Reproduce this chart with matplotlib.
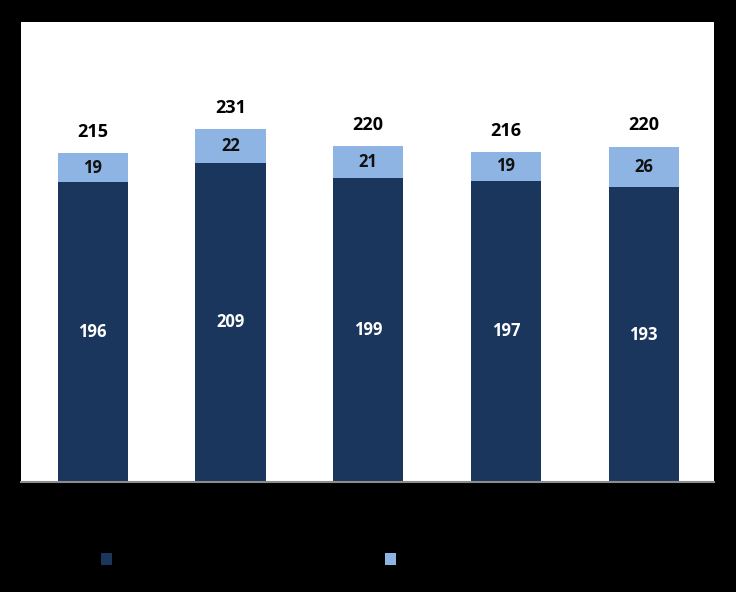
import numpy as np
import matplotlib
matplotlib.use("Agg")
from matplotlib import pyplot as plt

# data
categories = ["2010", "2011", "2012", "2013", "2014"]
base = [196, 209, 199, 197, 193]
top = [19, 22, 21, 19, 26]
totals = [215, 231, 220, 216, 220]
series_names = ["Series 1", "Series 2"]

dark = "#1b365d"
light = "#8db4e2"

plt.rcParams['font.family'] = ['Open Sans', 'DejaVu Sans']

fig = plt.figure(figsize=(7.36, 5.92), dpi=100, facecolor="black")
ax = fig.add_axes([21/736, 110/592, 693/736, 460/592])
ax.set_facecolor("white")

x = np.arange(len(categories))
b1 = ax.bar(x, base, width=0.51, color=dark, label=series_names[0])
b2 = ax.bar(x, top, width=0.51, bottom=base, color=light, label=series_names[1])

for i in range(len(x)):
    ax.text(x[i], base[i] / 2, str(base[i]), ha="center", va="center",
            color="white", fontsize=12, fontweight="bold")
    ax.text(x[i], base[i] + top[i] / 2, str(top[i]), ha="center", va="center",
            color="#111111", fontsize=12, fontweight="bold")
    ax.text(x[i], totals[i] + 8, str(totals[i]), ha="center", va="bottom",
            color="black", fontsize=13, fontweight="bold")

ax.set_xlim(-0.52, len(x) - 0.49)
ax.set_ylim(0, 301)
ax.set_yticks([])
ax.set_xticks(x)
ax.set_xticklabels(categories, color="black")
ax.tick_params(axis="x", length=0)
for s in ["top", "left", "right"]:
    ax.spines[s].set_visible(False)
ax.spines["bottom"].set_color("#8c8c8c")
ax.spines["bottom"].set_linewidth(1.5)

# legend text is black on black, only the swatches show
for h, name, xpos in [(b1, series_names[0], 101/736), (b2, series_names[1], 385/736)]:
    fig.legend(handles=[h], labels=[name], loc="center left",
               bbox_to_anchor=(xpos, 1 - 561/592), frameon=False,
               borderpad=0, borderaxespad=0, handlelength=0.75,
               handleheight=0.85, fontsize=11, labelcolor="black")

fig.savefig("out.png", dpi=100, facecolor="black")
